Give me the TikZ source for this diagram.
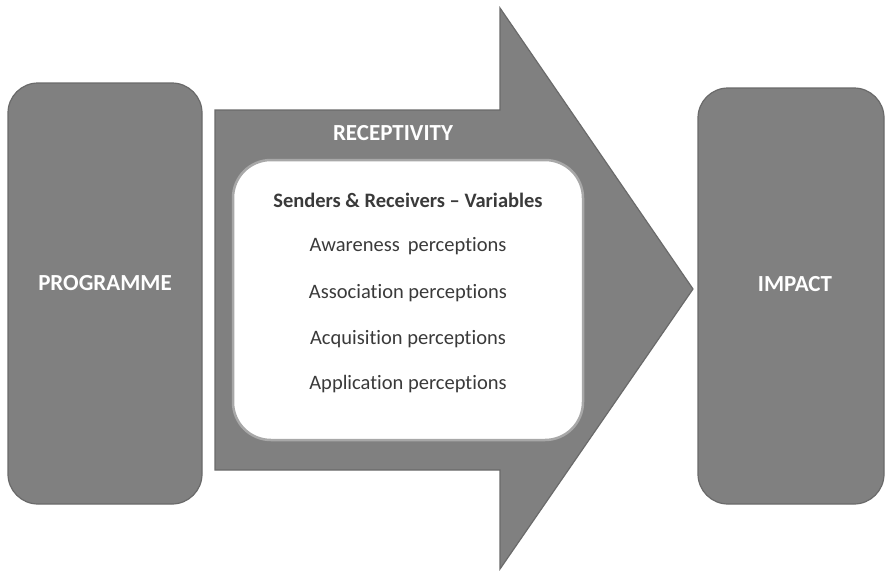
\documentclass[tikz,border=0pt]{standalone}
\usepackage{fontspec}
\setmainfont{Carlito}[Ligatures=CommonOff]
\definecolor{boxgray}{HTML}{808080}
\definecolor{edgegray}{HTML}{6A6A6A}
\definecolor{inkgray}{HTML}{3A3A3A}
\definecolor{rimgray}{HTML}{A8A8A8}
\begin{document}
\begin{tikzpicture}[x=1pt,y=-1pt,
  stage/.style={draw=edgegray, line width=1.2pt, fill=boxgray, rounded corners=30pt},
  stagelabel/.style={text=white, font=\fontsize{23}{26}\selectfont\bfseries},
  item/.style={text=inkgray, font=\fontsize{20.5}{23}\selectfont}]
\useasboundingbox (0,0) rectangle (885,573);
\fill[white] (0,0) rectangle (885,573);

% side stages
\node[stage, minimum width=194pt, minimum height=421pt] (prog) at (105,293.5) {};
\node[stagelabel] (progtext) at (105,283) {PROGRAMME};
\node[stage, minimum width=186pt, minimum height=416pt] (impact) at (791,296) {};
\node[stagelabel] (impacttext) at (795,284) {IMPACT};

% central arrow
\draw[draw=edgegray, line width=1.2pt, fill=boxgray]
  (215,110) -- (500,110) -- (500,8) -- (693,289) -- (500,569) -- (500,470) -- (215,470) -- cycle;
\node[stagelabel] (recept) at (393,133) {RECEPTIVITY};

% inner panel
\node[draw=rimgray, line width=2.5pt, fill=white, rounded corners=38pt,
  minimum width=350pt, minimum height=280pt] (panel) at (408,300) {};
\node[item, font=\fontsize{20.5}{23}\selectfont\bfseries] (head) at (408,200) {Senders \& Receivers -- Variables};
\node[item] (aw) at (408,246) {Awareness\, perceptions};
\node[item] (as) at (408,293) {Association perceptions};
\node[item] (ac) at (408,339) {Acquisition perceptions};
\node[item] (ap) at (408,384) {Application perceptions};
\end{tikzpicture}
\end{document}
